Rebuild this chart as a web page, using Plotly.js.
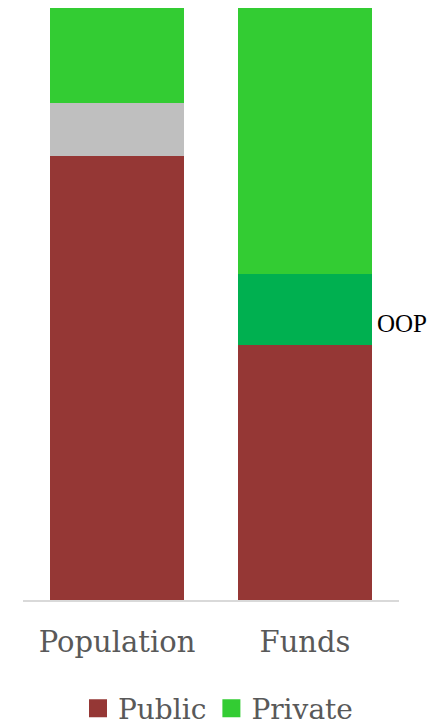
<!DOCTYPE html>
<html>
<head>
<meta charset="utf-8">
<script src="https://cdn.plot.ly/plotly-3.0.1.min.js"></script>
<style>
  html, body { margin: 0; padding: 0; background: #ffffff; }
  #chart { width: 436px; height: 726px; }
</style>
</head>
<body>
<div id="chart"></div>
<script>
// Share (%) of population covered and of funds, by source
const categories = ['Population', 'Funds'];
const publicShare = [75, 43];
const otherShare = [9, null];   // grey band on the population bar
const oopShare = [null, 12];    // out-of-pocket band on the funds bar
const privateShare = [16, 45];
const oopLabel = 'OOP';

const serif = 'DejaVu Serif, serif';
const barWidth = 0.715;

const traces = [
  { type: 'bar', name: 'Public', x: categories, y: publicShare,
    marker: { color: '#953735' }, width: barWidth, hoverinfo: 'skip' },
  { type: 'bar', name: 'Other', x: categories, y: otherShare,
    marker: { color: '#BFBFBF' }, width: barWidth, showlegend: false, hoverinfo: 'skip' },
  { type: 'bar', name: 'OOP', x: categories, y: oopShare,
    marker: { color: '#00B050' }, width: barWidth, showlegend: false, hoverinfo: 'skip' },
  { type: 'bar', name: 'Private', x: categories, y: privateShare,
    marker: { color: '#33CC33' }, width: barWidth, hoverinfo: 'skip' }
];

const layout = {
  width: 436,
  height: 726,
  barmode: 'stack',
  margin: { l: 23, r: 37, t: 8, b: 126 },
  paper_bgcolor: '#ffffff',
  plot_bgcolor: '#ffffff',
  font: { family: serif, color: '#595959' },
  xaxis: {
    type: 'category',
    range: [-0.5, 1.5],
    showline: true,
    linecolor: '#D9D9D9',
    linewidth: 1.5,
    ticks: '',
    ticklabelstandoff: 16,
    tickfont: { family: serif, size: 29, color: '#595959' },
    showgrid: false,
    zeroline: false,
    fixedrange: true
  },
  yaxis: {
    range: [0, 100],
    showticklabels: false,
    showgrid: false,
    zeroline: false,
    showline: false,
    ticks: '',
    fixedrange: true
  },
  showlegend: true,
  legend: {
    orientation: 'h',
    xref: 'container',
    yref: 'container',
    x: 0.5,
    xanchor: 'center',
    y: 0.024,
    yanchor: 'middle',
    font: { family: serif, size: 28, color: '#595959' },
    traceorder: 'normal',
    itemclick: false,
    itemdoubleclick: false
  },
  annotations: [{
    xref: 'x', yref: 'y',
    x: 1 + barWidth / 2,
    y: publicShare[1] + oopShare[1] / 2,
    xanchor: 'left',
    yanchor: 'middle',
    xshift: 3,
    yshift: -14,
    text: oopLabel,
    showarrow: false,
    font: { family: 'Liberation Serif, serif', size: 25, color: '#000000' }
  }]
};

Plotly.newPlot('chart', traces, layout, { displayModeBar: false, staticPlot: true })
  .then(function (gd) {
    // enlarge the square legend swatches, keeping their own placement
    gd.querySelectorAll('.legend .legendpoints path').forEach(function (p) {
      const t = p.getAttribute('transform') || '';
      p.setAttribute('transform', t + ' scale(1.5)');
    });
  });
</script>
</body>
</html>
